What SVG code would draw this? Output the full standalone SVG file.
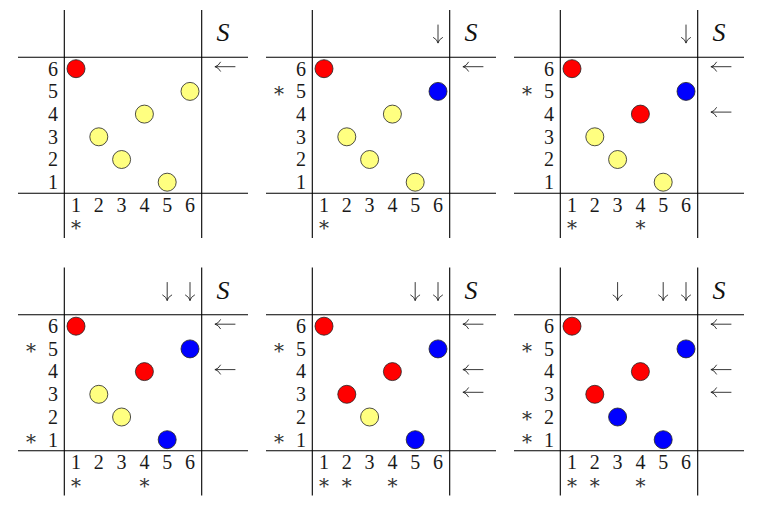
<svg xmlns="http://www.w3.org/2000/svg" xmlns:xlink="http://www.w3.org/1999/xlink" width="779" height="509" viewBox="0 0 779 509">
<style>
.ln{stroke:#000;stroke-width:1.1;fill:none}
.ar{stroke:#222;stroke-width:0.9;fill:none;stroke-linecap:round}
.t{font-family:"Liberation Serif","Times New Roman",serif;font-size:20px;fill:#1a1a1a;text-anchor:middle}
.s{font-family:"DejaVu Serif","Liberation Serif",serif;font-size:20px;fill:#333;text-anchor:middle}
.S{font-family:"Liberation Serif","Times New Roman",serif;font-size:26px;font-style:italic;fill:#111;text-anchor:middle}
.r{fill:#ff0000;stroke:#222;stroke-width:0.8}
.y{fill:#ffff80;stroke:#222;stroke-width:0.8}
.b{fill:#0000ff;stroke:#222;stroke-width:0.8}
</style>
<defs>
<g id="frame">
<path class="ln" d="M18,57.3H248M18,193.3H248M64.3,10V238M201.7,10V238"/>
</g>
<path id="la" class="ar" d="M235,0H215.3M220.5,-4.5Q218.5,-0.8 215.3,0M220.5,4.5Q218.5,0.8 215.3,0"/>
<path id="da" class="ar" d="M0,25V42.7M-4.5,37.5Q-0.8,39.5 0,42.7M4.5,37.5Q0.8,39.5 0,42.7"/>
</defs>

<g id="panel1">
<use xlink:href="#frame"/>
<g id="p1-labels">
<text class="t" x="53" y="75.5">6</text><text class="t" x="53" y="98.2">5</text><text class="t" x="53" y="120.9">4</text><text class="t" x="53" y="143.6">3</text><text class="t" x="53" y="166.3">2</text><text class="t" x="53" y="189">1</text>
<text class="t" x="76" y="211.8">1</text><text class="t" x="98.8" y="211.8">2</text><text class="t" x="121.6" y="211.8">3</text><text class="t" x="144.4" y="211.8">4</text><text class="t" x="167.2" y="211.8">5</text><text class="t" x="190" y="211.8">6</text>
<text class="s" x="76" y="235.4">*</text>
<text class="S" x="223" y="41">S</text>
</g>
<g id="p1-nodes">
<circle class="r" cx="76" cy="68.7" r="9"/>
<circle class="y" cx="98.8" cy="136.8" r="9"/>
<circle class="y" cx="121.6" cy="159.5" r="9"/>
<circle class="y" cx="144.4" cy="114.1" r="9"/>
<circle class="y" cx="167.2" cy="182.2" r="9"/>
<circle class="y" cx="190" cy="91.4" r="9"/>
</g>
<g id="p1-arrows">
<use xlink:href="#la" y="66.7"/>
</g>
</g>

<g id="panel2" transform="translate(248,0)">
<use xlink:href="#frame"/>
<g id="p2-labels">
<text class="t" x="53" y="75.5">6</text><text class="t" x="53" y="98.2">5</text><text class="t" x="53" y="120.9">4</text><text class="t" x="53" y="143.6">3</text><text class="t" x="53" y="166.3">2</text><text class="t" x="53" y="189">1</text>
<text class="t" x="76" y="211.8">1</text><text class="t" x="98.8" y="211.8">2</text><text class="t" x="121.6" y="211.8">3</text><text class="t" x="144.4" y="211.8">4</text><text class="t" x="167.2" y="211.8">5</text><text class="t" x="190" y="211.8">6</text>
<text class="s" x="31" y="100.8">*</text>
<text class="s" x="76" y="235.4">*</text>
<text class="S" x="223" y="41">S</text>
</g>
<g id="p2-nodes">
<circle class="r" cx="76" cy="68.7" r="9"/>
<circle class="y" cx="98.8" cy="136.8" r="9"/>
<circle class="y" cx="121.6" cy="159.5" r="9"/>
<circle class="y" cx="144.4" cy="114.1" r="9"/>
<circle class="y" cx="167.2" cy="182.2" r="9"/>
<circle class="b" cx="190" cy="91.4" r="9"/>
</g>
<g id="p2-arrows">
<use xlink:href="#la" y="66.7"/>
<use xlink:href="#da" x="190"/>
</g>
</g>

<g id="panel3" transform="translate(496,0)">
<use xlink:href="#frame"/>
<g id="p3-labels">
<text class="t" x="53" y="75.5">6</text><text class="t" x="53" y="98.2">5</text><text class="t" x="53" y="120.9">4</text><text class="t" x="53" y="143.6">3</text><text class="t" x="53" y="166.3">2</text><text class="t" x="53" y="189">1</text>
<text class="t" x="76" y="211.8">1</text><text class="t" x="98.8" y="211.8">2</text><text class="t" x="121.6" y="211.8">3</text><text class="t" x="144.4" y="211.8">4</text><text class="t" x="167.2" y="211.8">5</text><text class="t" x="190" y="211.8">6</text>
<text class="s" x="31" y="100.8">*</text>
<text class="s" x="76" y="235.4">*</text><text class="s" x="144.4" y="235.4">*</text>
<text class="S" x="223" y="41">S</text>
</g>
<g id="p3-nodes">
<circle class="r" cx="76" cy="68.7" r="9"/>
<circle class="y" cx="98.8" cy="136.8" r="9"/>
<circle class="y" cx="121.6" cy="159.5" r="9"/>
<circle class="r" cx="144.4" cy="114.1" r="9"/>
<circle class="y" cx="167.2" cy="182.2" r="9"/>
<circle class="b" cx="190" cy="91.4" r="9"/>
</g>
<g id="p3-arrows">
<use xlink:href="#la" y="66.7"/>
<use xlink:href="#la" y="112.1"/>
<use xlink:href="#da" x="190"/>
</g>
</g>

<g id="panel4" transform="translate(0,257.5)">
<use xlink:href="#frame"/>
<g id="p4-labels">
<text class="t" x="53" y="75.5">6</text><text class="t" x="53" y="98.2">5</text><text class="t" x="53" y="120.9">4</text><text class="t" x="53" y="143.6">3</text><text class="t" x="53" y="166.3">2</text><text class="t" x="53" y="189">1</text>
<text class="t" x="76" y="211.8">1</text><text class="t" x="98.8" y="211.8">2</text><text class="t" x="121.6" y="211.8">3</text><text class="t" x="144.4" y="211.8">4</text><text class="t" x="167.2" y="211.8">5</text><text class="t" x="190" y="211.8">6</text>
<text class="s" x="31" y="100.8">*</text><text class="s" x="31" y="191.6">*</text>
<text class="s" x="76" y="235.4">*</text><text class="s" x="144.4" y="235.4">*</text>
<text class="S" x="223" y="41">S</text>
</g>
<g id="p4-nodes">
<circle class="r" cx="76" cy="68.7" r="9"/>
<circle class="y" cx="98.8" cy="136.8" r="9"/>
<circle class="y" cx="121.6" cy="159.5" r="9"/>
<circle class="r" cx="144.4" cy="114.1" r="9"/>
<circle class="b" cx="167.2" cy="182.2" r="9"/>
<circle class="b" cx="190" cy="91.4" r="9"/>
</g>
<g id="p4-arrows">
<use xlink:href="#la" y="66.7"/>
<use xlink:href="#la" y="112.1"/>
<use xlink:href="#da" x="167.2"/>
<use xlink:href="#da" x="190"/>
</g>
</g>

<g id="panel5" transform="translate(248,257.5)">
<use xlink:href="#frame"/>
<g id="p5-labels">
<text class="t" x="53" y="75.5">6</text><text class="t" x="53" y="98.2">5</text><text class="t" x="53" y="120.9">4</text><text class="t" x="53" y="143.6">3</text><text class="t" x="53" y="166.3">2</text><text class="t" x="53" y="189">1</text>
<text class="t" x="76" y="211.8">1</text><text class="t" x="98.8" y="211.8">2</text><text class="t" x="121.6" y="211.8">3</text><text class="t" x="144.4" y="211.8">4</text><text class="t" x="167.2" y="211.8">5</text><text class="t" x="190" y="211.8">6</text>
<text class="s" x="31" y="100.8">*</text><text class="s" x="31" y="191.6">*</text>
<text class="s" x="76" y="235.4">*</text><text class="s" x="98.8" y="235.4">*</text><text class="s" x="144.4" y="235.4">*</text>
<text class="S" x="223" y="41">S</text>
</g>
<g id="p5-nodes">
<circle class="r" cx="76" cy="68.7" r="9"/>
<circle class="r" cx="98.8" cy="136.8" r="9"/>
<circle class="y" cx="121.6" cy="159.5" r="9"/>
<circle class="r" cx="144.4" cy="114.1" r="9"/>
<circle class="b" cx="167.2" cy="182.2" r="9"/>
<circle class="b" cx="190" cy="91.4" r="9"/>
</g>
<g id="p5-arrows">
<use xlink:href="#la" y="66.7"/>
<use xlink:href="#la" y="112.1"/>
<use xlink:href="#la" y="134.8"/>
<use xlink:href="#da" x="167.2"/>
<use xlink:href="#da" x="190"/>
</g>
</g>

<g id="panel6" transform="translate(496,257.5)">
<use xlink:href="#frame"/>
<g id="p6-labels">
<text class="t" x="53" y="75.5">6</text><text class="t" x="53" y="98.2">5</text><text class="t" x="53" y="120.9">4</text><text class="t" x="53" y="143.6">3</text><text class="t" x="53" y="166.3">2</text><text class="t" x="53" y="189">1</text>
<text class="t" x="76" y="211.8">1</text><text class="t" x="98.8" y="211.8">2</text><text class="t" x="121.6" y="211.8">3</text><text class="t" x="144.4" y="211.8">4</text><text class="t" x="167.2" y="211.8">5</text><text class="t" x="190" y="211.8">6</text>
<text class="s" x="31" y="100.8">*</text><text class="s" x="31" y="168.9">*</text><text class="s" x="31" y="191.6">*</text>
<text class="s" x="76" y="235.4">*</text><text class="s" x="98.8" y="235.4">*</text><text class="s" x="144.4" y="235.4">*</text>
<text class="S" x="223" y="41">S</text>
</g>
<g id="p6-nodes">
<circle class="r" cx="76" cy="68.7" r="9"/>
<circle class="r" cx="98.8" cy="136.8" r="9"/>
<circle class="b" cx="121.6" cy="159.5" r="9"/>
<circle class="r" cx="144.4" cy="114.1" r="9"/>
<circle class="b" cx="167.2" cy="182.2" r="9"/>
<circle class="b" cx="190" cy="91.4" r="9"/>
</g>
<g id="p6-arrows">
<use xlink:href="#la" y="66.7"/>
<use xlink:href="#la" y="112.1"/>
<use xlink:href="#la" y="134.8"/>
<use xlink:href="#da" x="121.6"/>
<use xlink:href="#da" x="167.2"/>
<use xlink:href="#da" x="190"/>
</g>
</g>
</svg>
